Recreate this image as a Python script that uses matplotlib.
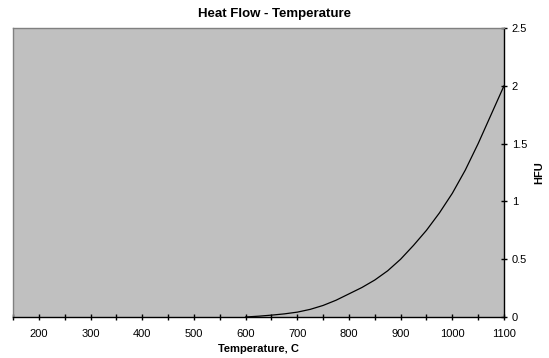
import matplotlib
matplotlib.use('Agg')
import matplotlib.pyplot as plt
from matplotlib.ticker import MultipleLocator, FuncFormatter

plt.rcParams['font.family'] = ['Liberation Sans', 'DejaVu Sans']

# data
temperature = [600, 625, 650, 675, 700, 725, 750, 775, 800, 825, 850,
               875, 900, 925, 950, 975, 1000, 1025, 1050, 1075, 1100]
hfu = [0.0, 0.007, 0.016, 0.027, 0.042, 0.066, 0.1, 0.145, 0.2, 0.255, 0.32,
       0.4, 0.5, 0.62, 0.75, 0.9, 1.07, 1.27, 1.5, 1.75, 2.0]

fig = plt.figure(figsize=(5.49, 3.58), dpi=100)
fig.patch.set_facecolor('white')
ax = fig.add_axes([13 / 549, 1 - 317 / 358, (504 - 13) / 549, (317 - 28) / 358])
ax.set_facecolor('#C0C0C0')

ax.plot(temperature, hfu, color='black', lw=0.9)

ax.set_xlim(150, 1100)
ax.set_ylim(0, 2.5)

ax.xaxis.set_major_locator(MultipleLocator(50))
ax.xaxis.set_major_formatter(FuncFormatter(
    lambda v, p: '%d' % v if round(v) % 100 == 0 else ''))
ax.yaxis.set_major_locator(MultipleLocator(0.5))
ax.yaxis.set_major_formatter(FuncFormatter(
    lambda v, p: '0' if v == 0 else ('%g' % v)))

ax.yaxis.tick_right()
ax.yaxis.set_label_position('right')
ax.tick_params(axis='both', direction='inout', length=5, width=1,
               labelsize=8, color='black')
ax.tick_params(axis='x', pad=6)
ax.tick_params(axis='y', pad=3)

for side in ['top', 'left']:
    ax.spines[side].set_color('#808080')
    ax.spines[side].set_linewidth(1)
for side in ['bottom', 'right']:
    ax.spines[side].set_color('black')
    ax.spines[side].set_linewidth(1)

ax.set_xlabel('Temperature, C', fontsize=8, fontweight='bold', labelpad=4)
ax.set_ylabel('HFU', fontsize=8, fontweight='bold', labelpad=5)
fig.text(274 / 549, 1 - 14 / 358, 'Heat Flow - Temperature', ha='center',
         va='center', fontsize=9.5, fontweight='bold')

fig.savefig('out.png', dpi=100, facecolor='white')
